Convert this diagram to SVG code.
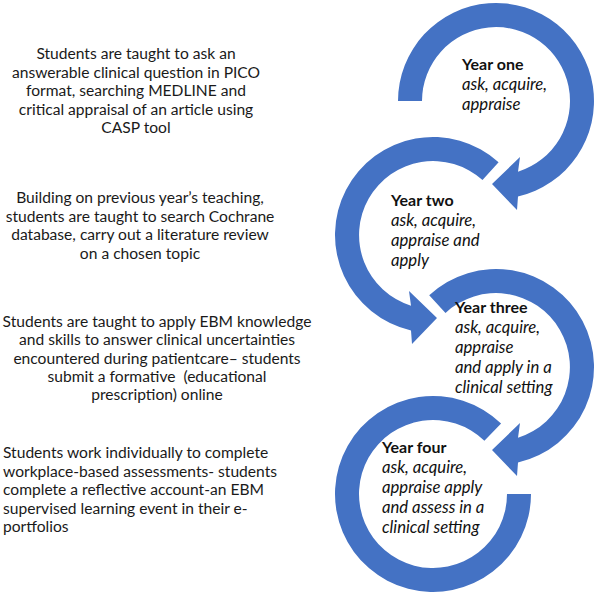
<svg xmlns="http://www.w3.org/2000/svg" width="596" height="594" viewBox="0 0 596 594">
<style>
.arc{fill:#4472C4;stroke:none}
.desc{font-family:Lato,"Liberation Sans",sans-serif;font-size:15.6px;fill:#1a1a1a}
.c{text-anchor:middle}
.yr{font-family:Lato,"Liberation Sans",sans-serif;font-size:16px;fill:#111}
.b{font-weight:bold}
.i{font-style:italic;font-size:16.7px}
</style>
<rect width="596" height="594" fill="#fff"/>
<g id="connectors">
<path id="arrow1" class="arc" d="M398,101 A98,98 0 1 1 518,196.5 L517,210 L492,184 L520,157 L518,171.7 A74,74 0 1 0 422,101 Z"/>
<path id="arrow2" class="arc" d="M498.6,162.2 A98,98 0 1 0 411,330.5 L412,344 L437,318 L409,291 L411,305.7 A74,74 0 1 1 482.5,180 Z"/>
<path id="arrow3" class="arc" d="M429.2,295.3 A98,98 0 1 1 518,462.5 L517,476 L492,450 L520,423 L518,437.7 A74,74 0 1 0 445.5,312.9 Z"/>
<path id="arrow4" class="arc" d="M501.1,423.5 A98,98 0 1 0 531,494 L507,494 A74,74 0 1 1 484.4,440.8 Z"/>
</g>
<g id="year1">
<text class="yr b" x="462" y="70">Year one</text>
<text class="yr i" x="462" y="90">ask, acquire,</text>
<text class="yr i" x="462" y="110">appraise</text>
</g>
<g id="year2">
<text class="yr b" x="391" y="206">Year two</text>
<text class="yr i" x="391" y="226">ask, acquire,</text>
<text class="yr i" x="391" y="246">appraise and</text>
<text class="yr i" x="391" y="266">apply</text>
</g>
<g id="year3">
<text class="yr b" x="455" y="313">Year three</text>
<text class="yr i" x="455" y="333">ask, acquire,</text>
<text class="yr i" x="455" y="353">appraise</text>
<text class="yr i" x="455" y="373">and apply in a</text>
<text class="yr i" x="455" y="393">clinical setting</text>
</g>
<g id="year4">
<text class="yr b" x="382" y="453">Year four</text>
<text class="yr i" x="382" y="473">ask, acquire,</text>
<text class="yr i" x="382" y="493">appraise apply</text>
<text class="yr i" x="382" y="513">and assess in a</text>
<text class="yr i" x="382" y="533">clinical setting</text>
</g>
<g id="desc1" class="desc c">
<text x="136" y="59">Students are taught to ask an</text>
<text x="136" y="77.5">answerable clinical question in PICO</text>
<text x="136" y="96">format, searching MEDLINE and</text>
<text x="136" y="114.5">critical appraisal of an article using</text>
<text x="136" y="133">CASP tool</text>
</g>
<g id="desc2" class="desc c">
<text x="140" y="203">Building on previous year’s teaching,</text>
<text x="140" y="221.5">students are taught to search Cochrane</text>
<text x="140" y="240">database, carry out a literature review</text>
<text x="140" y="258.5">on a chosen topic</text>
</g>
<g id="desc3" class="desc c">
<text x="157" y="327">Students are taught to apply EBM knowledge</text>
<text x="157" y="345">and skills to answer clinical uncertainties</text>
<text x="157" y="363.5">encountered during patientcare– students</text>
<text x="157" y="382" style="white-space:pre">submit a formative  (educational</text>
<text x="157" y="400">prescription) online</text>
</g>
<g id="desc4" class="desc">
<text x="3" y="458">Students work individually to complete</text>
<text x="3" y="476.5">workplace-based assessments- students</text>
<text x="3" y="495">complete a reflective account-an EBM</text>
<text x="3" y="513.5">supervised learning event in their e-</text>
<text x="3" y="532">portfolios</text>
</g>
</svg>
